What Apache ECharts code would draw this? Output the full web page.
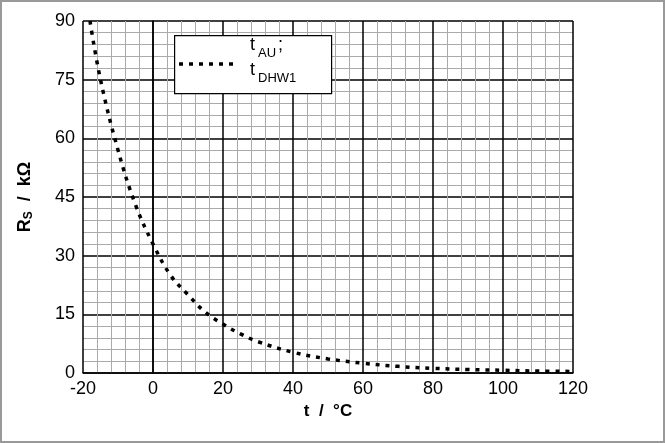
<!DOCTYPE html>
<html><head><meta charset="utf-8">
<script src="https://cdn.jsdelivr.net/npm/echarts@6/dist/echarts.min.js"></script>
<style>html,body{margin:0;background:#fff}#c{width:665px;height:443px;box-sizing:border-box;border:2px solid #999}</style>
</head><body><div id="c"></div>
<script>
var temps=[-18,-15,-10,-5,0,5,10,15,20,25,30,40,50,60,70,80,90,100,110,120];
var resist=[90,75,57,43,33,25,20,15.5,12.5,10,8,5.3,3.6,2.5,1.7,1.2,0.9,0.7,0.5,0.4];
var xTicks=[-20,120,20];
var yTicks=[0,90,15];

var myChart=echarts.init(document.getElementById('c'));
var font='Liberation Sans, Arial, sans-serif';
var big='18px '+font, small='13px '+font;
option={
  animation:false,
  grid:{left:81,right:90,top:19,bottom:68},
  xAxis:{
    type:'value',min:xTicks[0],max:xTicks[1],interval:xTicks[2],
    name:'t  /  °C',nameLocation:'middle',nameGap:30,
    nameTextStyle:{fontFamily:font,fontSize:17,fontWeight:'bold',color:'#000'},
    axisLine:{lineStyle:{color:'#000',width:1.5}},
    axisTick:{show:false},
    axisLabel:{fontFamily:font,fontSize:18,color:'#000',margin:7},
    splitLine:{lineStyle:{color:'#000',width:1.5}},
    minorTick:{show:false,splitNumber:5},
    minorSplitLine:{show:true,lineStyle:{color:'#aaa',width:1}}
  },
  yAxis:{
    type:'value',min:yTicks[0],max:yTicks[1],interval:yTicks[2],
    name:'{b|R}{s|S}{b|  /  kΩ}',nameLocation:'middle',nameGap:48,
    nameTextStyle:{rich:{b:{fontFamily:font,fontSize:18,fontWeight:'bold',color:'#000'},
      s:{fontFamily:font,fontSize:12,fontWeight:'bold',color:'#000',verticalAlign:'bottom',padding:[8,0,0,0]}}},
    axisLine:{show:true,lineStyle:{color:'#000',width:1.5}},
    axisTick:{show:false},
    axisLabel:{fontFamily:font,fontSize:18,color:'#000',margin:8},
    splitLine:{lineStyle:{color:'#000',width:1.5}},
    minorTick:{show:false,splitNumber:5},
    minorSplitLine:{show:true,lineStyle:{color:'#aaa',width:1}}
  },
  series:[{
    type:'line',smooth:0.4,symbol:'none',
    data:temps.map(function(t,i){return [t,resist[i]];}),
    lineStyle:{color:'#000',width:3.5,type:[4,6]}
  }],
  graphic:[
    {type:'rect',left:172,top:33,z:100,shape:{width:157,height:58},style:{fill:'#fff',stroke:'#000',lineWidth:1.2}},
    {type:'line',z:101,shape:{x1:177,y1:62,x2:237,y2:62},style:{stroke:'#000',lineWidth:3.5,lineDash:[4,6]}},
    {type:'text',z:101,left:248,top:34,style:{text:'t',font:big,fill:'#000'}},
    {type:'text',z:101,left:256,top:45,style:{text:'AU',font:small,fill:'#000'}},
    {type:'text',z:101,left:276,top:34,style:{text:';',font:big,fill:'#000'}},
    {type:'text',z:101,left:248,top:59,style:{text:'t',font:big,fill:'#000'}},
    {type:'text',z:101,left:256,top:70,style:{text:'DHW1',font:small,fill:'#000'}}
  ]
};
option && myChart.setOption(option);
window.addEventListener("resize",function(){myChart.resize();});
</script></body></html>
